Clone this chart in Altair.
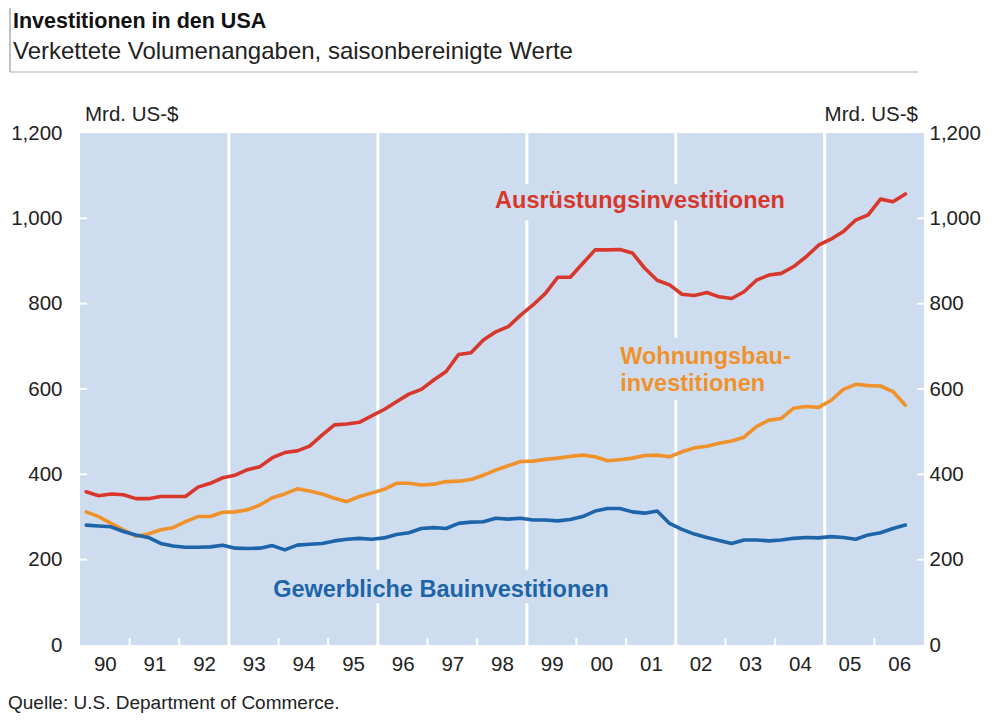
import altair as alt
import pandas as pd

# ---------------- data (Mrd. US-$, quarterly 1990Q1 .. 2006Q3) ----------------
years = list(range(1990, 2007))
quarters = [f"{y}Q{q}" for y in years for q in range(1, 5)][:67]

ausruestung = [
    359, 350, 354, 352, 343, 343, 348, 348, 348, 370, 379, 392,
    398, 411, 418, 439, 451, 455, 466, 492, 516, 518, 522, 537,
    552, 570, 588, 599, 621, 641, 681, 685, 715, 734, 746, 773,
    797, 824, 862, 862, 894, 926, 926, 927, 919, 883, 855, 844,
    822, 819, 826, 816, 812, 828, 855, 867, 871, 887, 910, 937,
    951, 969, 996, 1008, 1045, 1039, 1057,
]
wohnungsbau = [
    312, 301, 285, 270, 255, 260, 270, 275, 289, 301, 301, 311,
    312, 317, 328, 345, 354, 366, 361, 354, 344, 336, 348, 356,
    365, 379, 379, 375, 377, 383, 384, 388, 398, 410, 420, 430,
    431, 435, 438, 442, 445, 441, 432, 434, 438, 444, 445, 441,
    453, 462, 466, 473, 478, 487, 512, 527, 531, 555, 559, 557,
    573, 599, 611, 608, 607, 594, 562,
]
gewerbe = [
    281, 279, 277, 266, 258, 252, 238, 232, 229, 229, 230, 234,
    227, 226, 227, 233, 223, 234, 236, 238, 244, 248, 250, 248,
    251, 259, 263, 273, 275, 273, 285, 288, 289, 297, 295, 297,
    293, 293, 291, 294, 301, 314, 320, 320, 312, 309, 314, 285,
    271, 260, 252, 245, 238, 246, 246, 244, 246, 250, 252, 251,
    254, 252, 248, 258, 263, 273, 281,
]

series_names = ["Ausrüstungsinvestitionen", "Wohnungsbauinvestitionen",
                "Gewerbliche Bauinvestitionen"]
series_colors = ["#d7382b", "#f0922c", "#1d64a8"]

y_ticks = [0, 200, 400, 600, 800, 1000, 1200]
year_centers = [y + 0.5 for y in years]
period_bounds = [1993, 1996, 1999, 2002, 2005]
year_bounds = list(range(1991, 2007))
inner_ticks = [200, 400, 600, 800, 1000]

# label annotations (text, series, left x in years, y value)
label_texts = ["Ausrüstungsinvestitionen", "Wohnungsbau-", "investitionen",
               "Gewerbliche Bauinvestitionen"]
label_series = ["Ausrüstungsinvestitionen", "Wohnungsbauinvestitionen",
                "Wohnungsbauinvestitionen", "Gewerbliche Bauinvestitionen"]
label_t = [1998.36, 2000.88, 2000.88, 1993.89]
label_v = [1040, 675, 612, 129]
# background boxes behind labels (interrupt the white period lines)
mask_t1 = [1998.22, 2000.72, 1993.73]
mask_t2 = [2004.34, 2004.74, 2000.78]
mask_v1 = [995, 574, 98]
mask_v2 = [1080, 720, 176]

# ---------------- tables ----------------
rows = []
for name, vals in zip(series_names, [ausruestung, wohnungsbau, gewerbe]):
    for ql, v in zip(quarters, vals):
        yr, q = int(ql[:4]), int(ql[-1])
        rows.append({"series": name, "quarter": ql, "t": yr + (q - 0.5) / 4, "value": v})
df = pd.DataFrame(rows)
labels_df = pd.DataFrame({"text": label_texts, "series": label_series,
                          "t": label_t, "v": label_v})
mask_df = pd.DataFrame({"t1": mask_t1, "t2": mask_t2, "v1": mask_v1, "v2": mask_v2})
pb_df = pd.DataFrame({"b": period_bounds})
yb_df = pd.DataFrame({"b": year_bounds})
it_df = pd.DataFrame({"v": inner_ticks})
one = pd.DataFrame({"a": [0]})

W, H = 844, 512
BG = "#cedcf0"
FONT = "Liberation Sans"
TXT = "#222222"
AX = 20.5

xs = alt.Scale(domain=[1990, 2007], nice=False, zero=False)
ys = alt.Scale(domain=[0, 1200], nice=False, zero=True)
color = alt.Color("series:N", scale=alt.Scale(domain=series_names, range=series_colors),
                  legend=None)

x_axis = alt.Axis(values=year_centers, labelExpr="substring(toString(floor(datum.value)), 2, 4)",
                  domain=False, ticks=False, grid=False, labelPadding=9, labelFontSize=AX,
                  labelFont=FONT, labelColor=TXT, title=None)


def X(field):
    return alt.X(field, type="quantitative", scale=xs, axis=x_axis)


def Y(field, axis=None):
    return alt.Y(field, type="quantitative", scale=ys, axis=axis)


left_axis = alt.Axis(values=y_ticks, format=",d", orient="left", domain=False, ticks=False,
                     grid=False, labelPadding=18, labelFontSize=AX, labelFont=FONT,
                     labelColor=TXT, title=None)
right_axis = alt.Axis(values=y_ticks, format=",d", orient="right", domain=False, ticks=False,
                      grid=False, labelPadding=5, labelFontSize=AX, labelFont=FONT,
                      labelColor=TXT, labelAlign="left", title=None)

plot_bg = alt.Chart(one).mark_rect(color=BG).encode(
    x=alt.value(0), x2=alt.value(W), y=alt.value(0), y2=alt.value(H))

period_lines = alt.Chart(pb_df).mark_rule(color="white", strokeWidth=3).encode(x=X("b"))

bottom_ticks = alt.Chart(yb_df).mark_rule(color="white", strokeWidth=2).encode(
    x=X("b"), y=alt.value(H - 7), y2=alt.value(H))

left_ticks = alt.Chart(it_df).mark_rule(color="white", strokeWidth=2).encode(
    y=Y("v"), x=alt.value(0), x2=alt.value(7))

right_ticks = alt.Chart(it_df).mark_rule(color="white", strokeWidth=2).encode(
    y=Y("v", right_axis), x=alt.value(W - 7), x2=alt.value(W))

masks = alt.Chart(mask_df).mark_rect(color=BG).encode(
    x=X("t1"), x2="t2", y=Y("v1"), y2="v2")

lines = alt.Chart(df).mark_line(strokeWidth=3.6, strokeJoin="round", strokeCap="round").encode(
    x=X("t"), y=Y("value", left_axis), color=color, detail="series:N", order="t:Q")

labels = alt.Chart(labels_df).mark_text(
    align="left", baseline="middle", font=FONT, fontSize=23.5, fontWeight="bold").encode(
    x=X("t"), y=Y("v"), text="text:N", color=color)


def txt(s, x, y, size, bold=False, align="left", col=TXT):
    return alt.Chart(one).mark_text(
        text=s, align=align, baseline="middle", font=FONT, fontSize=size,
        fontWeight="bold" if bold else "normal", color=col).encode(
        x=alt.value(x), y=alt.value(y))


title = txt("Investitionen in den USA", -67, -111, 21.5, bold=True, col="#111111")
subtitle = txt("Verkettete Volumenangaben, saisonbereinigte Werte", -67, -81, 24)
unit_l = txt("Mrd. US-$", 5, -18, AX)
unit_r = txt("Mrd. US-$", 838, -18, AX, align="right")
source = txt("Quelle: U.S. Department of Commerce.", -72, 570, 19)

frame_v = alt.Chart(one).mark_rule(color="#9a9a9a", strokeWidth=1.2).encode(
    x=alt.value(-70), y=alt.value(-128), y2=alt.value(-61))
frame_h = alt.Chart(one).mark_rule(color="#b0b0b0", strokeWidth=1.2).encode(
    x=alt.value(-70), x2=alt.value(838), y=alt.value(-61))

chart = alt.layer(
    plot_bg, period_lines, bottom_ticks, left_ticks, right_ticks, masks, lines, labels,
    title, subtitle, unit_l, unit_r, source, frame_v, frame_h,
).resolve_scale(y="independent").properties(
    width=W, height=H,
    autosize=alt.AutoSizeParams(type="none"),
    padding={"left": 72, "top": 125, "right": 63, "bottom": 69},
).configure_view(stroke=None)

chart.save("out.html", embed_options={"renderer": "svg", "actions": False})
